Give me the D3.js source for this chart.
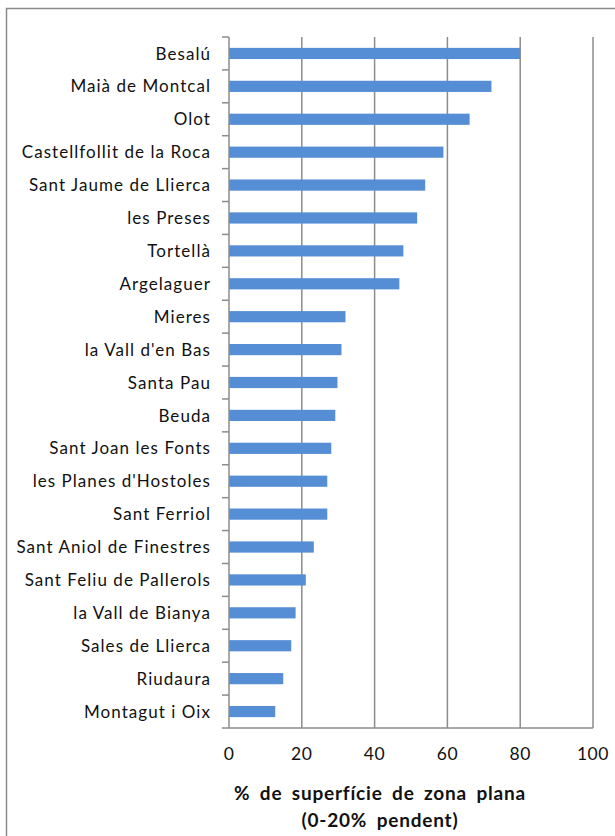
<!DOCTYPE html>
<html>
<head>
<meta charset="utf-8">
<style>
  body { margin: 0; background: #fff; }
  svg { display: block; font-family: Lato, "Open Sans", sans-serif; }
</style>
</head>
<body>
<div id="chart"></div>
<script src="https://d3js.org/d3.v7.min.js"></script>
<script>
const municipis = ["Besalú", "Maià de Montcal", "Olot", "Castellfollit de la Roca", "Sant Jaume de Llierca",
  "les Preses", "Tortellà", "Argelaguer", "Mieres", "la Vall d'en Bas", "Santa Pau", "Beuda",
  "Sant Joan les Fonts", "les Planes d'Hostoles", "Sant Ferriol", "Sant Aniol de Finestres",
  "Sant Feliu de Pallerols", "la Vall de Bianya", "Sales de Llierca", "Riudaura", "Montagut i Oix"];
const zonaPlana = [80, 72.1, 66.1, 58.9, 53.9, 51.7, 47.9, 46.8, 32.0, 30.9, 29.8, 29.2,
  28.1, 27.0, 27.0, 23.3, 21.1, 18.3, 17.1, 14.9, 12.7];
const xTicks = [0, 20, 40, 60, 80, 100];
const titol = ["% de superfície de zona plana", "(0-20% pendent)"];

const width = 615, height = 836;
const plotLeft = 229, plotRight = 593, plotTop = 37, plotBottom = 728;

const svg = d3.select("#chart").append("svg")
  .attr("width", width)
  .attr("height", height);

// marc exterior
svg.append("rect")
  .attr("x", 6.5).attr("y", 8.5)
  .attr("width", 640).attr("height", 860)
  .attr("fill", "none")
  .attr("stroke", "#8a8a8a")
  .attr("stroke-width", 1.5);

const x = d3.scaleLinear().domain([0, 100]).range([plotLeft, plotRight]);
const y = d3.scaleBand().domain(municipis).range([plotTop, plotBottom])
  .paddingInner(0.66).paddingOuter(0.33);

// gridlines
svg.append("g")
  .selectAll("line")
  .data(xTicks.slice(1))
  .join("line")
  .attr("x1", d => x(d)).attr("x2", d => x(d))
  .attr("y1", plotTop).attr("y2", plotBottom)
  .attr("stroke", "#8c8c8c")
  .attr("stroke-width", 1.5);

// bars
svg.append("g")
  .selectAll("rect")
  .data(municipis)
  .join("rect")
  .attr("x", x(0))
  .attr("y", d => y(d))
  .attr("width", (d, i) => x(zonaPlana[i]) - x(0))
  .attr("height", y.bandwidth())
  .attr("fill", "#558ed5");

// eix vertical amb marques entre categories
const boundaries = d3.range(municipis.length + 1)
  .map(i => plotTop + i * (plotBottom - plotTop) / municipis.length);
const yAxis = svg.append("g");
yAxis.append("line")
  .attr("x1", plotLeft).attr("x2", plotLeft)
  .attr("y1", plotTop).attr("y2", plotBottom)
  .attr("stroke", "#8c8c8c").attr("stroke-width", 1.5);
yAxis.selectAll("line.tick")
  .data(boundaries)
  .join("line")
  .attr("class", "tick")
  .attr("x1", plotLeft - 7).attr("x2", plotLeft)
  .attr("y1", d => d).attr("y2", d => d)
  .attr("stroke", "#8c8c8c").attr("stroke-width", 1.5);
yAxis.selectAll("text")
  .data(municipis)
  .join("text")
  .attr("x", 211)
  .attr("y", d => y(d) + y.bandwidth() / 2)
  .attr("dy", "0.36em")
  .attr("text-anchor", "end")
  .attr("font-size", 17)
  .attr("letter-spacing", 1.05)
  .attr("fill", "#111")
  .text(d => d);

// eix horitzontal
svg.append("line")
  .attr("x1", plotLeft).attr("x2", plotRight)
  .attr("y1", plotBottom).attr("y2", plotBottom)
  .attr("stroke", "#8c8c8c").attr("stroke-width", 1.5);

svg.append("g")
  .selectAll("text")
  .data(xTicks)
  .join("text")
  .attr("x", d => x(d))
  .attr("y", 760)
  .attr("text-anchor", "middle")
  .attr("font-size", 17.5)
  .attr("letter-spacing", 0.6)
  .attr("fill", "#111")
  .text(d => d);

svg.append("g")
  .selectAll("text")
  .data(titol)
  .join("text")
  .attr("x", 380)
  .attr("y", (d, i) => 800 + i * 27)
  .attr("text-anchor", "middle")
  .attr("font-size", 19)
  .attr("font-weight", "bold")
  .attr("letter-spacing", 0.8)
  .attr("word-spacing", 4)
  .attr("fill", "#111")
  .text(d => d);
</script>
</body>
</html>
